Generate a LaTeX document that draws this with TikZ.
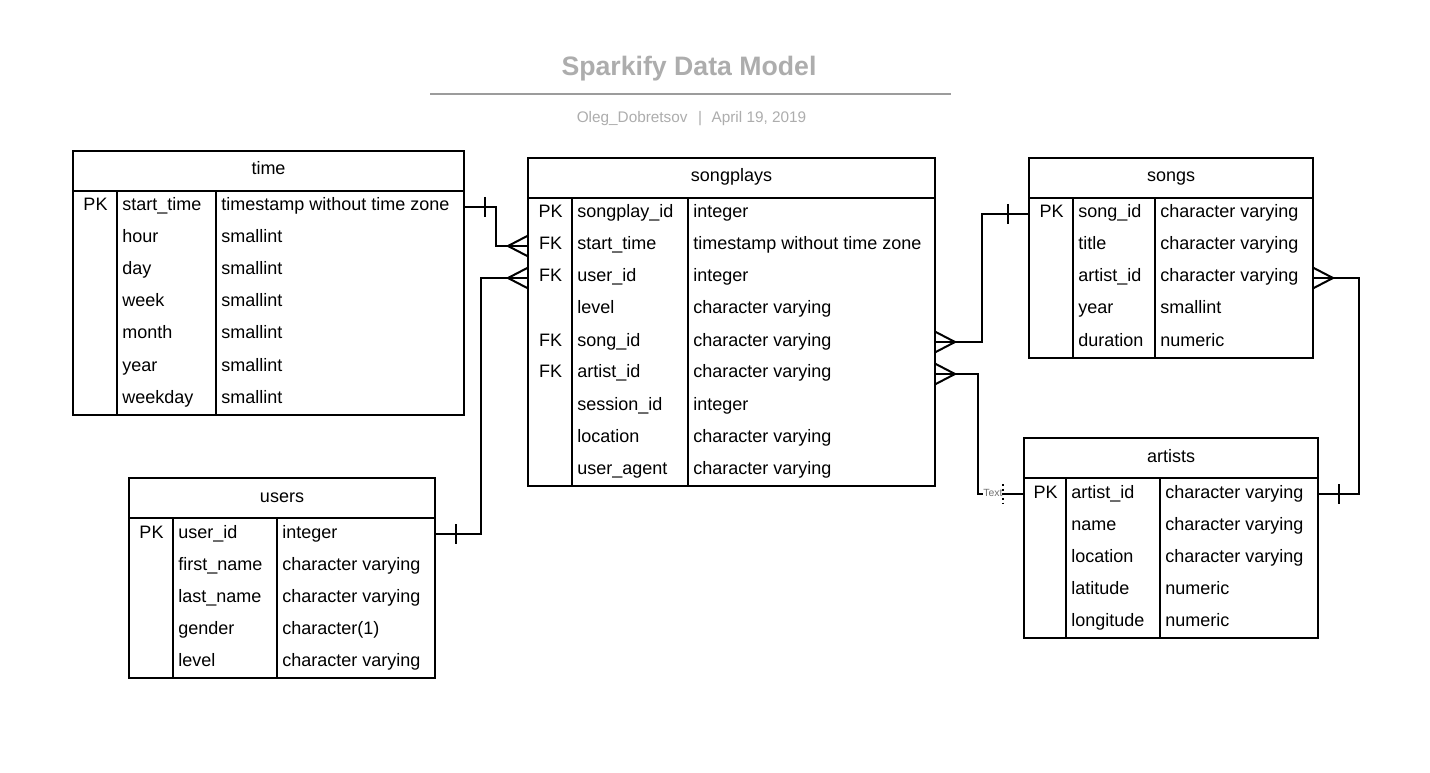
\documentclass[tikz,border=0pt]{standalone}
\usepackage{fontspec}
\setmainfont{Liberation Sans}
\usetikzlibrary{fit}
\definecolor{titlegray}{HTML}{ADADAD}
\definecolor{labelgray}{HTML}{707070}
\tikzset{
  grid/.style={line width=1.5pt, black},
  conn/.style={line width=1.5pt, black},
  celltext/.style={inner sep=0pt, font=\fontsize{13.5}{16}\selectfont},
  titletext/.style={inner sep=0pt, text=titlegray, font=\fontsize{20}{24}\selectfont\bfseries},
  subtext/.style={inner sep=0pt, text=titlegray, font=\fontsize{11.5}{14}\selectfont},
  smalllabel/.style={inner sep=0.6pt, fill=white, text=labelgray, font=\fontsize{7.8}{9}\selectfont},
}
% #1 name, #2 left, #3 top, #4 col1, #5 col2, #6 right, #7 bottom, #8 title, #9 rows
\newcommand\ertab[9]{%
  \node[fit={(#2,#3) (#6,#7)}, inner sep=0pt, draw, line width=1.5pt] (#1) {};
  \draw[grid] (#2,{#3+40}) -- (#6,{#3+40});
  \draw[grid] (#4,{#3+40}) -- (#4,#7);
  \draw[grid] (#5,{#3+40}) -- (#5,#7);
  \node[celltext, anchor=base] (#1-title) at ({(#2+#6)/2},{#3+24}) {#8};
  \foreach \k/\n/\t [count=\i] in {#9} {
    \coordinate (#1-L\i) at (#2,{#3+24+32*\i});
    \coordinate (#1-R\i) at (#6,{#3+24+32*\i});
    \node[celltext, anchor=base] (#1-k\i) at ({(#2+#4)/2+0.5},{#3+28+32*\i}) {\k};
    \node[celltext, anchor=base west] (#1-n\i) at ({#4+5},{#3+28+32*\i}) {\n};
    \node[celltext, anchor=base west] (#1-t\i) at ({#5+5},{#3+28+32*\i}) {\t};
  }%
}
% crow's foot, entity on the right of the point
\newcommand\crowR[1]{\draw[conn] ([xshift=-15pt]#1) -- ([yshift=7.8pt]#1) ([xshift=-15pt]#1) -- ([yshift=-7.8pt]#1);}
% crow's foot, entity on the left of the point
\newcommand\crowL[1]{\draw[conn] ([xshift=15pt]#1) -- ([yshift=7.8pt]#1) ([xshift=15pt]#1) -- ([yshift=-7.8pt]#1);}
% one-tick at horizontal offset #2 (pt)
\newcommand\tick[2]{\draw[conn] ([xshift=#2,yshift=7.5pt]#1) -- ([xshift=#2,yshift=-7.5pt]#1);}
\begin{document}
\begin{tikzpicture}[x=0.75pt,y=-0.75pt]
\useasboundingbox[fill=white] (0,0) rectangle (1430,773);

\node[titletext, anchor=base] (title) at (689,75.5) {Sparkify Data Model};
\coordinate (tl1) at (430,94);
\coordinate (tl2) at (951,94);
\draw[line width=1.5pt, titlegray!90!black] (tl1) -- (tl2);
\node[subtext, anchor=base] (subtitle) at (691.5,122.5) {Oleg\_Dobretsov\hspace{8pt}|\hspace{7pt}April 19, 2019};

\ertab{time}{73}{151}{117}{216}{464}{415}{time}{PK/start\_time/timestamp without time zone,{}/hour/smallint,{}/day/smallint,{}/week/smallint,{}/month/smallint,{}/year/smallint,{}/weekday/smallint}

\ertab{songplays}{528}{158}{572}{688}{935}{486}{songplays}{PK/songplay\_id/integer,FK/start\_time/timestamp without time zone,FK/user\_id/integer,{}/level/character varying,FK/song\_id/character varying,FK/artist\_id/character varying,{}/session\_id/integer,{}/location/character varying,{}/user\_agent/character varying}

\ertab{songs}{1029}{158}{1073}{1155}{1313}{358}{songs}{PK/song\_id/character varying,{}/title/character varying,{}/artist\_id/character varying,{}/year/smallint,{}/duration/numeric}

\ertab{artists}{1024}{438}{1066}{1160}{1318}{638}{artists}{PK/artist\_id/character varying,{}/name/character varying,{}/location/character varying,{}/latitude/numeric,{}/longitude/numeric}

\ertab{users}{129}{478}{173}{277}{435}{678}{users}{PK/user\_id/integer,{}/first\_name/character varying,{}/last\_name/character varying,{}/gender/character(1),{}/level/character varying}

% time -> songplays
\draw[conn] (time-R1) -- ++(32,0) |- (songplays-L2);
\tick{time-R1}{15.5pt}
\crowR{songplays-L2}

% users -> songplays
\draw[conn] (users-R1) -- ++(46,0) |- (songplays-L3);
\tick{users-R1}{15.75pt}
\crowR{songplays-L3}

% songplays -> songs
\draw[conn] (songplays-R5) -- ++(47,0) |- (songs-L1);
\crowL{songplays-R5}
\tick{songs-L1}{-15.75pt}

% songplays -> artists
\draw[conn] (songplays-R6) -- ++(43,0) |- (artists-L1);
\crowL{songplays-R6}
\node[smalllabel] (txt) at (993,493) {Text};
\draw[line width=1.5pt, dotted] ([xshift=-15.75pt,yshift=7.5pt]artists-L1) -- ([xshift=-15.75pt,yshift=-7.5pt]artists-L1);

% songs -> artists
\draw[conn] (songs-R3) -- ++(46,0) |- (artists-R1);
\crowL{songs-R3}
\tick{artists-R1}{15.75pt}
\end{tikzpicture}
\end{document}
